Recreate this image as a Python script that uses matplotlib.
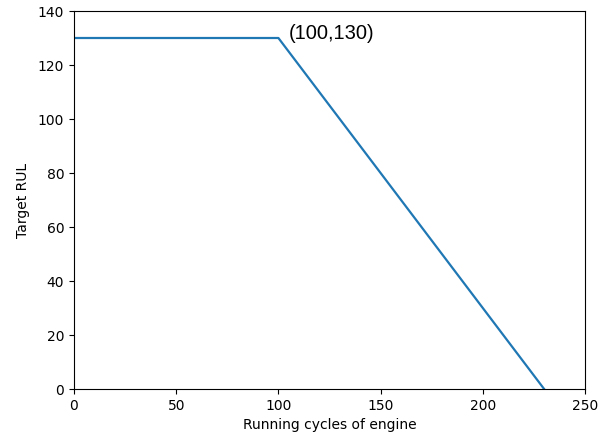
import matplotlib
matplotlib.use("Agg")
import matplotlib.pyplot as plt

cycles = [0, 100, 230]
rul = [130, 130, 0]
xticks = [0, 50, 100, 150, 200, 250]
yticks = [0, 20, 40, 60, 80, 100, 120, 140]
note = "(100,130)"
note_xy = (105, 131.8)

fig = plt.figure(figsize=(6.10, 4.36), dpi=100)
ax = fig.add_axes([74/610, 1 - 389/436, (585-74)/610, (389-11)/436])
ax.plot(cycles, rul, color="#1f77b4", linewidth=1.6)
ax.set_xlim(0, 250)
ax.set_ylim(0, 140)
ax.set_xticks(xticks)
ax.set_yticks(yticks)
ax.tick_params(labelsize=10)
ax.set_xlabel("Running cycles of engine", fontsize=10)
ax.set_ylabel("Target RUL", fontsize=10, labelpad=6)
ax.text(note_xy[0], note_xy[1], note, fontsize=14.5, family="Liberation Sans",
        ha="left", va="center")
fig.savefig("out.png", dpi=100)
